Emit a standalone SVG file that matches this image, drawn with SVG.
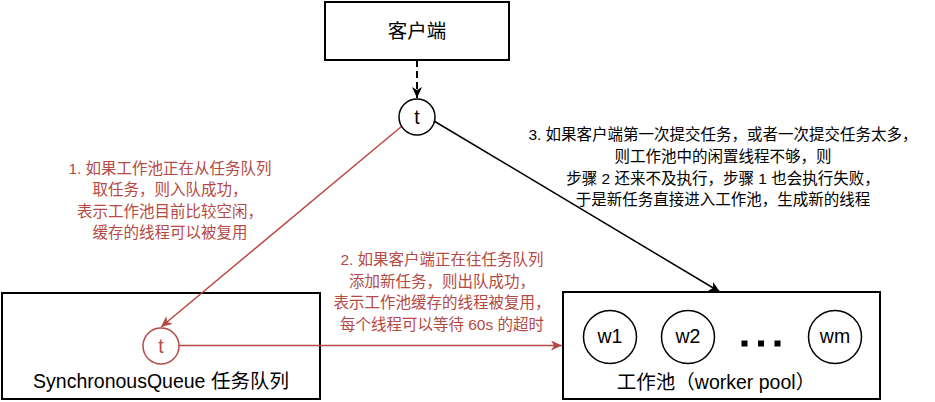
<svg xmlns="http://www.w3.org/2000/svg" width="935" height="402" viewBox="0 0 935 402">
<style>
text{font-family:"Liberation Sans","Noto Sans CJK SC",sans-serif;text-anchor:middle}
.box{fill:#fff;stroke:#000;stroke-width:2}
.c{fill:#fff;stroke:#000;stroke-width:1.5}
.cr{fill:#fff;stroke:#b54a44;stroke-width:1.5}
.big{font-size:19.5px;fill:#000}
.lbl{font-size:15.5px}
.red{fill:#b54a44}
.blk{fill:#000}
</style>
<defs>
<marker id="ab" markerWidth="12" markerHeight="10" refX="11" refY="5" orient="auto" markerUnits="userSpaceOnUse"><path d="M0,0 L11,5 L0,10 L3,5 Z" fill="#000"/></marker>
<marker id="ar" markerWidth="12" markerHeight="10" refX="11" refY="5" orient="auto" markerUnits="userSpaceOnUse"><path d="M0,0 L11,5 L0,10 L3,5 Z" fill="#b54a44"/></marker>
</defs>
<g id="client"><rect class="box" x="325" y="2" width="184" height="58"/><text class="big" x="417" y="38">客户端</text></g>
<g id="sync-queue"><rect class="box" x="2" y="293" width="318" height="106"/><text class="big" x="161" y="388">SynchronousQueue 任务队列</text></g>
<g id="worker-pool"><rect class="box" x="563" y="292" width="317" height="107"/><text class="big" x="716" y="389">工作池（worker pool）</text>
<g id="w1"><circle class="c" cx="610" cy="337" r="26.5"/><text class="big" x="610" y="343">w1</text></g>
<g id="w2"><circle class="c" cx="688" cy="337" r="26.5"/><text class="big" x="688" y="343">w2</text></g>
<g id="dots"><rect x="741.5" y="340.5" width="6" height="6"/><rect x="758" y="340.5" width="6" height="6"/><rect x="774.5" y="340.5" width="6" height="6"/></g>
<g id="wm"><circle class="c" cx="835" cy="337" r="26.5"/><text class="big" x="835" y="343">wm</text></g>
</g>
<g id="connectors" fill="none">
<line x1="417" y1="60" x2="417" y2="98" stroke="#000" stroke-width="2" stroke-dasharray="7,4" marker-end="url(#ab)"/>
<line x1="434" y1="121" x2="720" y2="292" stroke="#000" stroke-width="1.5" marker-end="url(#ab)"/>
<line x1="402" y1="126" x2="161" y2="327" stroke="#b54a44" stroke-width="1.5" marker-end="url(#ar)"/>
<line x1="179" y1="345.5" x2="562" y2="345.5" stroke="#b54a44" stroke-width="1.5" marker-end="url(#ar)"/>
</g>
<g id="t-client"><circle class="c" cx="417" cy="117" r="18"/><text class="big" x="417" y="124">t</text></g>
<g id="t-queue"><circle class="cr" cx="161" cy="346" r="18"/><text class="big red" x="161" y="353">t</text></g>
<g id="label1" class="lbl red"><text x="170" y="173.5">1. 如果工作池正在从任务队列</text><text x="170" y="195">取任务，则入队成功，</text><text x="170" y="216.5">表示工作池目前比较空闲，</text><text x="170" y="238">缓存的线程可以被复用</text></g>
<g id="label2" class="lbl red"><text x="442" y="265">2. 如果客户端正在往任务队列</text><text x="442" y="286.5">添加新任务，则出队成功，</text><text x="442" y="308">表示工作池缓存的线程被复用，</text><text x="442" y="329.5">每个线程可以等待 60s 的超时</text></g>
<g id="label3" class="lbl blk"><text x="723" y="139.5">3. 如果客户端第一次提交任务，或者一次提交任务太多，</text><text x="723" y="161.5">则工作池中的闲置线程不够，则</text><text x="723" y="183.5">步骤 2 还来不及执行，步骤 1 也会执行失败，</text><text x="723" y="205">于是新任务直接进入工作池，生成新的线程</text></g>
</svg>
